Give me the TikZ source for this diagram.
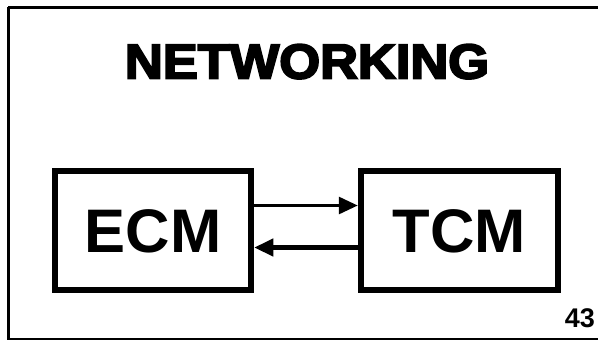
\documentclass[tikz,border=0pt]{standalone}
\usepackage{fontspec}
\setmainfont{Liberation Sans}
\newfontfamily\heavy[FakeBold=4]{Liberation Sans Bold}
\newfontfamily\boldsans{Liberation Sans Bold}
\usetikzlibrary{arrows.meta}
\tikzset{
  module/.style={draw, line width=6.5pt, inner sep=0pt, minimum height=119pt,
    text height=44pt, text depth=0pt, font=\boldsans\fontsize{61.5}{61.5}\selectfont},
  link/.style={-{Triangle[length=19pt,width=17pt]}},
}
\begin{document}
\begin{tikzpicture}[x=1pt,y=-1pt]
\useasboundingbox (0,0) rectangle (598,341);
\draw[line width=2.5pt] (8.3,7.3) -- (600,7.3) (8.3,7.3) -- (8.3,339.2) -- (600,339.2);
\node[anchor=base, inner sep=0pt] (title) at (307,78.5)
  {\scalebox{1.07}[1]{\heavy\fontsize{49}{49}\selectfont NETWORKING}};
\node[module, minimum width=196pt] (ecm) at (153,230.5) {ECM};
\node[module, minimum width=197pt] (tcm) at (459.5,230.5) {TCM};
\draw[link, line width=3pt] ([yshift=25pt]ecm.east) -- ([yshift=25pt]tcm.west);
\draw[link, line width=4.5pt] ([yshift=-17pt]tcm.west) -- ([yshift=-17pt]ecm.east);
\node[anchor=base east, inner sep=0pt, font=\boldsans\fontsize{27}{27}\selectfont] (num) at (595,327) {43};
\end{tikzpicture}
\end{document}
